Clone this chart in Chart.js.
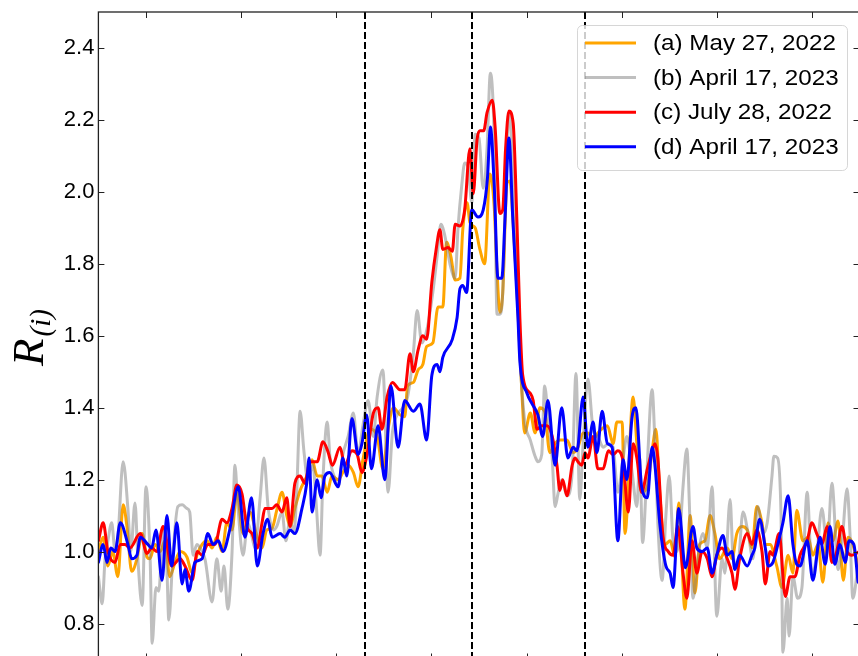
<!DOCTYPE html>
<html>
<head>
<meta charset="utf-8">
<script src="https://cdn.jsdelivr.net/npm/chart.js@4.4.1/dist/chart.umd.min.js"></script>
<style>
  html, body { margin: 0; padding: 0; background: #fff; overflow: hidden; }
  #wrap { width: 862px; height: 664px; }
  canvas { display: block; }
</style>
</head>
<body>
<div id="wrap"><canvas id="c" width="862" height="664"></canvas></div>
<script>
// ---- series: position along the profile (x) and ratio R_(i) (y) ----
const seriesLabels = ['(a) May 27, 2022', '(b) April 17, 2023', '(c) July 28, 2022', '(d) April 17, 2023'];

const orangeX = [0,0.5,1,1.5,2.05,2.6,3,3.5,4.05,4.6,5.1,5.4,5.95,6.5,7,7.5,8.05,8.6,9.3,9.85,10.35,10.9,11.4,11.95,12.45,13,13.5,14.05,14.55,15.2,15.9,16.7,17.2,17.7,18.25,18.75,19.3,19.8,20.15,20.65,21.2,21.9,22.45,23,23.5,24.05,24.55,25.2,25.7,26.25,26.8,27.3,27.8,28.55,29.3,29.9,30.45,31,31.7,32.2,32.5,33.1,33.6,34.1,34.5,35.15,35.7,36.2,36.6,37.05,37.5,38,38.3,38.75,39.05,39.6,40.1,40.6,41.15,41.6,41.9,42.2,42.5,42.95,43.25,43.6,43.95,44.5,44.8,45.4,45.9,46.4,46.9,47.45,48,48.5,49.25,49.9,50.4,50.95,51.45,52,52.5,53.5,54.1,54.5,55.05,55.35,56.2,56.6,57.1,57.7,58.2,58.6,59,59.55,60.1,60.6,61,61.65,62.2,62.7,63.2,63.75,64.3,64.8,65.3,66.1,66.6,67.1,67.65,68.2,68.7,69.2,69.75,70.1,70.6,71.3,71.85,72.5,73,73.4,74.05,74.6,75.1,75.65,76.15,76.7,77.2,77.75,78.3,78.8,79.3,79.85];
const orangeY = [1.00,1.04,0.96,1.00,0.93,1.13,1.07,0.945,0.98,1.05,0.985,0.98,1.02,1.00,1.03,0.93,0.97,1.00,0.985,0.94,0.99,1.02,1.03,1.01,1.04,1.00,1.08,1.06,1.165,1.05,1.11,1.04,1.01,1.06,1.065,1.115,1.165,1.10,1.07,1.12,1.17,1.21,1.255,1.21,1.21,1.165,1.21,1.20,1.22,1.24,1.22,1.18,1.255,1.34,1.32,1.23,1.34,1.40,1.38,1.375,1.46,1.47,1.505,1.52,1.57,1.58,1.68,1.68,1.86,1.82,1.755,1.76,1.895,1.97,1.915,1.90,1.84,1.80,2.05,1.96,1.78,1.665,1.72,2.025,2.03,1.91,1.75,1.45,1.33,1.385,1.33,1.40,1.39,1.275,1.30,1.31,1.31,1.275,1.29,1.33,1.33,1.31,1.33,1.35,1.30,1.36,1.36,1.05,1.43,1.30,1.165,1.18,1.28,1.34,1.165,1.02,1.03,0.985,1.135,0.84,1.10,0.885,1.02,1.03,1.10,1.05,0.98,1.01,0.98,1.05,1.07,1.06,1.01,1.125,1.08,1.02,1.02,0.96,0.90,0.99,0.94,1.115,1.03,1.04,0.99,1.02,0.915,1.08,1.03,1.085,0.92,1.04,1.02,0.96];

const grayX = [0,0.4,0.7,1,1.4,1.75,2.05,2.6,3.1,3.4,3.85,4.15,4.6,5,5.45,5.65,6.05,6.35,6.8,7.2,7.4,7.85,8.35,8.8,9.3,9.6,9.95,10.35,10.7,11.2,11.95,12.45,12.9,13.2,13.6,14.05,14.35,14.65,15.2,15.7,16.15,16.45,17,17.4,17.85,18.4,18.75,19.3,19.7,20.15,20.55,20.85,21.2,21.6,22,22.55,22.9,23.3,23.6,24.05,24.35,24.9,25.2,25.7,26.25,26.8,27.3,27.8,28.35,28.9,29.3,29.9,30.45,30.9,31.4,32,32.5,33.1,33.5,34,34.55,35.15,35.6,36,36.4,36.95,37.5,37.8,38.2,38.5,38.85,39.25,39.6,40,40.45,40.85,41.2,41.6,41.9,42.2,42.5,42.85,43.15,43.6,44,44.3,44.8,45.4,45.9,46.2,46.6,46.9,47.25,47.7,48,48.3,48.7,49.25,49.8,50.2,50.6,50.95,51.45,52,52.5,53.05,53.6,54.1,54.6,55.15,55.55,56.1,56.6,56.9,57.2,57.65,58.2,58.5,58.8,59.25,59.65,60,60.4,60.8,61.1,61.45,61.85,62.2,62.5,63,63.55,64,64.5,65,65.55,65.85,66.4,66.7,67.2,67.75,68.3,68.8,69.3,69.85,70.3,70.8,71,71.4,71.75,71.95,72.4,72.6,73,73.5,73.95,74.5,75,75.5,76.05,76.6,77.1,77.75,78.15,78.7,79,79.3,79.85];
const grayY = [0.93,0.855,0.98,1.03,1.08,1.00,1.04,1.25,1.12,1.00,1.135,0.98,0.85,1.18,0.97,0.745,0.90,0.89,1.07,0.95,0.81,1.00,1.125,1.13,1.12,1.11,0.99,1.02,1.01,0.98,0.86,0.98,0.89,0.96,0.84,1.00,1.24,1.13,0.99,1.08,1.04,1.01,1.15,1.26,1.12,1.06,1.07,1.11,1.03,1.09,1.05,1.17,1.39,1.28,1.20,1.24,1.13,0.99,1.20,1.36,1.26,1.20,1.18,1.27,1.32,1.385,1.27,1.35,1.42,1.32,1.43,1.505,1.165,1.33,1.38,1.40,1.43,1.55,1.67,1.58,1.62,1.72,1.82,1.91,1.88,1.80,1.76,1.90,2.02,2.08,2.07,1.97,2.16,2.15,2.01,2.12,2.33,2.15,1.66,1.66,1.72,2.05,2.22,2.05,1.80,1.55,1.365,1.31,1.265,1.25,1.27,1.46,1.38,1.26,1.125,1.16,1.20,1.155,1.22,1.495,1.145,1.30,1.48,1.34,1.32,1.29,1.30,1.29,1.165,1.26,1.32,1.22,1.125,1.26,1.025,1.22,1.45,1.30,1.08,0.92,1.10,1.21,1.03,1.00,1.04,1.18,1.285,1.07,0.87,0.98,1.05,1.01,1.18,0.82,0.98,0.94,1.145,0.99,0.96,1.11,1.05,0.98,1.125,1.05,1.08,1.21,1.265,1.26,1.10,0.72,0.87,0.765,0.93,0.87,0.90,1.165,0.94,0.99,1.12,1.01,1.19,0.95,1.02,1.175,1.05,0.87,0.96];

const redX = [0,0.5,1,1.75,2.3,2.8,3.3,4.4,5.1,5.6,6.15,6.8,7.7,8.6,9.1,9.85,10.4,10.9,11.5,12.25,13,13.5,14.05,14.55,15.1,15.6,16.15,16.7,17.2,17.5,18.25,18.75,19.3,19.8,20.15,20.65,21.2,21.7,22.25,23,23.6,24.1,24.6,25.4,25.9,26.65,27.2,27.7,28.2,28.9,29.4,29.8,30.35,30.9,31.7,32.2,32.75,33.1,33.6,34.1,34.5,35.05,35.5,35.9,36.2,36.75,37.2,37.5,38,38.5,39.05,39.4,39.8,40.1,40.5,40.85,41.4,41.7,42.2,42.5,42.8,43.15,43.6,44,44.3,44.6,45.4,45.7,46.1,46.6,47.15,47.7,48.2,48.5,48.8,49.25,49.8,50.1,50.4,50.8,51.15,51.45,52,52.5,53.05,53.6,54.1,54.6,55.15,55.7,56.2,56.6,57.1,57.7,58.2,58.5,58.8,59.35,59.9,60.4,60.9,61.45,61.85,62.4,62.9,63.45,64,64.5,65,65.55,66.1,66.6,66.9,67.4,68.2,68.7,69.2,69.75,70.1,70.6,70.9,71.55,72.2,72.7,73.2,73.75,74.5,75,75.5,76.05,76.6,77.1,77.6,78.15,78.7,79.2,80];
const redY = [1.03,1.08,1.00,0.97,1.02,1.02,1.01,1.05,0.995,1.01,1.00,1.07,0.96,0.98,0.96,0.92,1.00,0.99,1.02,1.02,1.09,1.08,1.12,1.185,1.16,1.07,1.05,1.01,1.08,1.12,1.12,1.13,1.11,1.15,1.07,1.19,1.21,1.19,1.25,1.25,1.305,1.28,1.24,1.29,1.24,1.28,1.27,1.22,1.265,1.385,1.40,1.34,1.43,1.47,1.45,1.45,1.55,1.50,1.56,1.60,1.59,1.75,1.84,1.895,1.84,1.845,1.835,1.91,1.905,1.95,2.12,1.995,2.145,2.17,2.17,2.22,2.255,2.18,1.94,1.95,2.12,2.225,2.19,1.91,1.65,1.49,1.44,1.42,1.34,1.35,1.35,1.32,1.24,1.17,1.20,1.155,1.24,1.26,1.25,1.24,1.275,1.26,1.32,1.23,1.23,1.28,1.27,1.28,1.25,1.11,1.30,1.26,1.165,1.23,1.28,1.30,1.26,1.04,1.00,0.99,1.07,0.94,0.87,1.03,0.94,1.00,0.98,0.93,0.99,1.01,0.98,0.94,0.895,0.98,1.05,1.02,1.06,1.00,0.91,1.00,0.99,1.05,0.875,0.93,0.93,0.99,1.03,1.08,1.05,1.02,1.07,0.97,1.00,1.07,1.00,0.99,1.00];

const blueX = [0,0.5,0.9,1.3,1.75,2.3,3.1,3.5,4.05,4.4,5.2,5.6,6.05,6.7,7.2,7.7,8.25,8.8,9.1,9.5,10.15,10.9,11.5,12.05,12.6,13.1,13.8,14.7,15.4,16.1,16.7,17.3,17.8,18.25,19.1,19.6,20.15,20.65,21.4,21.9,22.15,22.45,23,23.4,23.8,24.3,25.2,25.7,26.1,26.65,27.3,27.7,28.2,28.7,29.4,30.1,30.75,31.5,32.2,33.1,33.8,34.5,35.05,35.6,35.9,36.2,37.2,37.7,38,38.3,38.7,39.25,39.9,40.45,40.9,41.2,41.6,42,42.4,42.75,43.15,43.55,44.1,44.3,45.05,45.6,46.2,46.7,47.25,48,48.7,49.35,49.9,50.3,50.95,51.45,52,52.4,52.95,53.5,54,54.6,55.15,55.55,56.1,56.5,57.1,57.7,58.2,58.5,59,59.65,60.1,60.4,61,61.7,62.5,62.9,63.45,64,64.5,65,65.65,66.1,66.6,66.9,67.4,68.2,68.7,69,69.5,70.1,70.4,70.9,71.6,71.95,72.5,73,73.4,73.75,74.5,75.1,75.85,76.4,76.9,77.4,77.95,78.5,78.9,79.4,79.85];
const blueY = [0.97,1.02,0.97,1.01,1.00,1.08,1.02,0.98,0.99,1.04,1.02,1.01,1.06,0.92,1.10,0.96,1.08,0.91,0.95,0.89,0.97,0.98,1.05,1.02,1.03,1.00,1.06,1.18,1.04,1.15,0.96,1.05,1.09,1.04,1.05,1.04,1.06,1.05,1.12,1.19,1.26,1.11,1.20,1.15,1.21,1.22,1.18,1.26,1.21,1.37,1.27,1.30,1.38,1.23,1.35,1.20,1.46,1.29,1.42,1.39,1.41,1.31,1.49,1.52,1.50,1.54,1.59,1.65,1.73,1.74,1.72,1.95,1.93,1.95,2.04,2.18,2.02,1.76,1.76,1.93,2.15,1.93,1.65,1.53,1.44,1.41,1.38,1.32,1.42,1.24,1.40,1.26,1.29,1.28,1.43,1.29,1.36,1.275,1.39,1.30,1.29,1.03,1.255,1.20,1.375,1.40,1.18,1.15,1.29,1.24,1.08,0.96,0.94,0.90,1.12,0.955,1.07,1.01,1.00,1.01,0.94,0.99,1.045,0.99,1.00,0.95,0.99,0.96,0.99,1.01,1.09,1.01,0.96,0.97,1.04,1.08,1.155,1.02,0.965,0.96,1.03,0.92,1.04,0.965,1.07,0.965,1.02,0.97,1.03,1.02,0.915];

// axis ticks and the three reference positions (dashed verticals)
const yTickValues = [0.8, 1.0, 1.2, 1.4, 1.6, 1.8, 2.0, 2.2, 2.4];
const xTickValues = [5, 15, 25, 35, 45, 55, 65, 75];
const markerPositions = [28.0, 39.27, 51.15];

// ---- styling ----
const seriesColors = ['#FFA500', 'rgba(128,128,128,0.5)', '#FF0000', '#0000FF'];
const SANS = '"Liberation Sans", Arial, Helvetica, sans-serif';
const SERIF = '"Liberation Serif", "Times New Roman", serif';

function toPoints(xs, ys) {
  return xs.map((x, i) => ({ x: x, y: ys[i] }));
}

function lineSet(i, xs, ys, order) {
  return {
    label: seriesLabels[i],
    data: toPoints(xs, ys),
    borderColor: seriesColors[i],
    backgroundColor: seriesColors[i],
    borderWidth: 3,
    pointRadius: 0,
    fill: false,
    cubicInterpolationMode: 'monotone',
    borderJoinStyle: 'round',
    borderCapStyle: 'round',
    order: order
  };
}

// dashed reference lines, drawn over the curves
const markerLines = {
  id: 'markerLines',
  afterDatasetsDraw(chart) {
    const { ctx, chartArea: a, scales: { x } } = chart;
    ctx.save();
    ctx.strokeStyle = '#000';
    ctx.lineWidth = 2;
    ctx.setLineDash([7, 3]);
    markerPositions.forEach(v => {
      const px = Math.round(x.getPixelForValue(v));
      ctx.beginPath();
      ctx.moveTo(px, a.top);
      ctx.lineTo(px, a.bottom);
      ctx.stroke();
    });
    ctx.restore();
  }
};

// box frame with inward ticks on all four sides
const frame = {
  id: 'frame',
  afterDraw(chart) {
    const { ctx, chartArea: a, scales: { x, y } } = chart;
    const tl = 6;
    ctx.save();
    ctx.strokeStyle = '#222';
    ctx.lineWidth = 1;
    ctx.beginPath();
    yTickValues.forEach(v => {
      const py = Math.round(y.getPixelForValue(v)) + 0.5;
      ctx.moveTo(a.left, py); ctx.lineTo(a.left + tl, py);
      ctx.moveTo(a.right, py); ctx.lineTo(a.right - tl, py);
    });
    xTickValues.forEach(v => {
      const px = Math.round(x.getPixelForValue(v)) + 0.5;
      ctx.moveTo(px, a.top); ctx.lineTo(px, a.top + tl);
      ctx.moveTo(px, a.bottom); ctx.lineTo(px, a.bottom - tl);
    });
    ctx.stroke();
    ctx.lineWidth = 1.3;
    ctx.strokeRect(a.left, a.top, a.right - a.left, a.bottom - a.top);
    ctx.restore();
  }
};

// legend box in the upper right
const legendBox = {
  id: 'legendBox',
  afterDraw(chart) {
    const ctx = chart.ctx;
    const bx = 577, by = 25, bw = 270, bh = 145, r = 5;
    ctx.save();
    ctx.beginPath();
    ctx.roundRect(bx + 0.5, by + 0.5, bw, bh, r);
    ctx.fillStyle = 'rgba(255,255,255,0.8)';
    ctx.fill();
    ctx.strokeStyle = 'rgba(204,204,204,0.8)';
    ctx.lineWidth = 1;
    ctx.stroke();
    chart.data.datasets.forEach((ds, i) => {
      const ry = 43 + i * 34.6;
      ctx.strokeStyle = ds.borderColor;
      ctx.lineWidth = 3;
      ctx.beginPath();
      ctx.moveTo(585, ry);
      ctx.lineTo(636, ry);
      ctx.stroke();
      ctx.save();
      ctx.translate(653, ry);
      ctx.scale(1.1, 1);
      ctx.fillStyle = '#000';
      ctx.font = '22px ' + SANS;
      ctx.textBaseline = 'middle';
      ctx.textAlign = 'left';
      ctx.fillText(ds.label, 0, 1);
      ctx.restore();
    });
    ctx.restore();
  }
};

// rotated y-axis title R_(i)
const yTitle = {
  id: 'yTitle',
  afterDraw(chart) {
    const ctx = chart.ctx;
    ctx.save();
    ctx.translate(43, 366);
    ctx.rotate(-Math.PI / 2);
    ctx.fillStyle = '#000';
    ctx.textBaseline = 'alphabetic';
    ctx.font = 'italic 45px ' + SERIF;
    ctx.fillText('R', 0, 0);
    const w = ctx.measureText('R').width;
    ctx.font = 'italic 29px ' + SERIF;
    ctx.fillText('(i)', w + 2, 7);
    ctx.restore();
  }
};

new Chart(document.getElementById('c'), {
  type: 'line',
  data: {
    datasets: [
      lineSet(0, orangeX, orangeY, 4),
      lineSet(1, grayX, grayY, 3),
      lineSet(2, redX, redY, 2),
      lineSet(3, blueX, blueY, 1)
    ]
  },
  options: {
    responsive: false,
    animation: false,
    events: [],
    layout: { padding: { left: 0, right: 2.5, top: 12, bottom: 4.5 } },
    plugins: { legend: { display: false }, tooltip: { enabled: false } },
    scales: {
      x: {
        type: 'linear', min: 0, max: 80,
        grid: { display: false },
        border: { display: false },
        ticks: { display: false },
        afterBuildTicks(s) { s.ticks = xTickValues.map(v => ({ value: v })); },
        afterFit(s) { s.height = 0; s.paddingLeft = 0; s.paddingRight = 0; }
      },
      y: {
        type: 'linear', min: 0.7, max: 2.5,
        grid: { display: false, drawTicks: false },
        border: { display: false },
        ticks: {
          color: '#000',
          padding: 4,
          font: { family: SANS, size: 22 },
          callback: v => Number(v).toFixed(1)
        },
        afterBuildTicks(s) { s.ticks = yTickValues.map(v => ({ value: v })); },
        afterFit(s) { s.width = 98.4; s.paddingTop = 0; s.paddingBottom = 0; }
      }
    }
  },
  plugins: [markerLines, frame, legendBox, yTitle]
});
</script>
</body>
</html>
